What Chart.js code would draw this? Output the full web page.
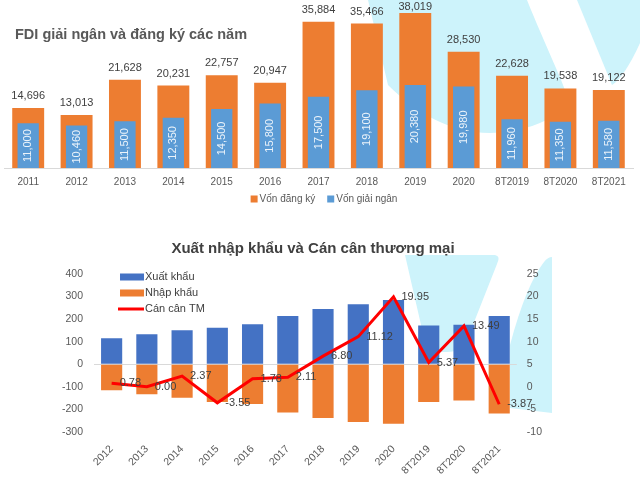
<!DOCTYPE html>
<html lang="vi">
<head>
    <meta charset="UTF-8">
    <title>FDI và Xuất nhập khẩu</title>
    <style>
        body { margin: 0; background: #fff; font-family: "Liberation Sans", Arial, sans-serif; }
        #wrap { position: relative; width: 640px; height: 480px; overflow: hidden; }
        #bg { position: absolute; left: 0; top: 0; }
        canvas { position: absolute; left: 0; }
        #fdiChart { top: 0; }
        #tradeChart { top: 230px; }
        .title { position: absolute; font-weight: bold; white-space: nowrap; line-height: 17px; }
        #t1 { left: 15px; top: 26px; font-size: 14.5px; color: #595959; }
        #t2 { left: 0; width: 626px; text-align: center; top: 239px; font-size: 15px; color: #404040; }
    </style>
</head>
<body>
<div id="wrap">
    <!-- faint watermark shapes behind the charts -->
    <svg id="bg" width="640" height="480">
        <path fill="#CDF3FB" d="M368,0 L527,0 C545,45 565,85 570,105 C545,125 520,132 490,133 C450,133 415,112 388,85 Z"/>
        <path fill="#CDF3FB" d="M577,0 L640,0 L640,43 C630,65 620,80 612,85 Z"/>
        <path fill="#CDF3FB" d="M405,255 L495,255 Q501,256 497,264 L467,340 Q462,352 447,352 L437,352 Q428,350 424,338 Z"/>
        <path fill="#CDF3FB" d="M510,408 L510,345 Q526,285 544,262 Q548,257 552,257 L552,413 Z"/>
    </svg>
    <canvas id="fdiChart" width="640" height="214"></canvas>
    <canvas id="tradeChart" width="640" height="250"></canvas>
    <div class="title" id="t1">FDI giải ngân và đăng ký các năm</div>
    <div class="title" id="t2">Xuất nhập khẩu và Cán cân thương mại</div>
</div>

<script src="https://cdn.jsdelivr.net/npm/chart.js@4.4.1/dist/chart.umd.min.js"></script>
<script>
    // FDI chart data (triệu USD)
    const fdiYears = ['2011', '2012', '2013', '2014', '2015', '2016', '2017', '2018', '2019', '2020', '8T2019', '8T2020', '8T2021'];
    const fdiRegistered = [14696, 13013, 21628, 20231, 22757, 20947, 35884, 35466, 38019, 28530, 22628, 19538, 19122];
    const fdiDisbursed = [11000, 10460, 11500, 12350, 14500, 15800, 17500, 19100, 20380, 19980, 11960, 11350, 11580];

    // trade chart data (tỷ USD)
    const tradeYears = ['2012', '2013', '2014', '2015', '2016', '2017', '2018', '2019', '2020', '8T2019', '8T2020', '8T2021'];
    const exportsBn = [115, 133, 151, 162, 177, 214, 245, 266, 285, 172, 175, 214];
    const importsBn = [-115, -133, -149, -167, -176, -214, -238, -256, -264, -167, -161, -218];
    const balanceBn = [0.78, 0.00, 2.37, -3.55, 1.78, 2.11, 6.80, 11.12, 19.95, 5.37, 13.49, -3.87];

    const FONT = '"Liberation Sans", Arial, sans-serif';
    Chart.defaults.font.family = FONT;
    Chart.defaults.color = '#595959';

    const fmt = n => n.toLocaleString('en-US');

    // value labels: above orange bars, rotated inside blue bars
    const fdiLabels = {
        id: 'fdiLabels',
        afterDatasetsDraw(chart) {
            const ctx = chart.ctx;
            ctx.save();
            ctx.font = '11px ' + FONT;
            ctx.textAlign = 'center';
            ctx.textBaseline = 'middle';
            chart.getDatasetMeta(0).data.forEach((bar, i) => {
                ctx.fillStyle = '#404040';
                ctx.fillText(fmt(fdiRegistered[i]), bar.x, Math.max(bar.y - 12, 7));
            });
            chart.getDatasetMeta(1).data.forEach((bar, i) => {
                ctx.save();
                ctx.translate(bar.x, (bar.y + bar.base) / 2);
                ctx.rotate(-Math.PI / 2);
                ctx.fillStyle = 'rgba(255,255,255,0.88)';
                ctx.fillText(fmt(fdiDisbursed[i]), 0, 0);
                ctx.restore();
            });
            ctx.restore();
        }
    };

    // small legend centred under the axis
    const fdiLegend = {
        id: 'fdiLegend',
        afterDraw(chart) {
            const ctx = chart.ctx;
            const y = chart.chartArea.bottom + 31;
            ctx.save();
            ctx.font = '10px ' + FONT;
            ctx.textBaseline = 'middle';
            ctx.textAlign = 'left';
            const ds = chart.data.datasets;
            const widths = ds.map(d => 9 + ctx.measureText(d.label).width);
            const total = widths.reduce((s, w) => s + w, 0) + 12 * (ds.length - 1);
            let x = 324 - total / 2;
            ds.forEach((d, i) => {
                ctx.fillStyle = d.backgroundColor;
                ctx.fillRect(x, y - 3.5, 7, 7);
                ctx.fillStyle = '#595959';
                ctx.fillText(d.label, x + 9, y);
                x += widths[i] + 12;
            });
            ctx.restore();
        }
    };

    new Chart(document.getElementById('fdiChart'), {
        type: 'bar',
        data: {
            labels: fdiYears,
            datasets: [{
                label: 'Vốn đăng ký',
                data: fdiRegistered,
                backgroundColor: '#ED7D31',
                barPercentage: 0.66,
                categoryPercentage: 1,
                grouped: false,
                order: 1
            }, {
                label: 'Vốn giải ngân',
                data: fdiDisbursed,
                backgroundColor: '#5B9BD5',
                barPercentage: 0.44,
                categoryPercentage: 1,
                grouped: false,
                order: 0
            }]
        },
        options: {
            responsive: false,
            animation: false,
            layout: { padding: { left: 4, right: 7, top: 5, bottom: 18 } },
            scales: {
                x: {
                    grid: { display: true, drawOnChartArea: false, drawTicks: false },
                    border: { display: true, color: '#D9D9D9' },
                    ticks: { font: { size: 10 }, color: '#595959', padding: 8 }
                },
                y: { display: false, min: 0, max: 40000 }
            },
            plugins: {
                legend: { display: false },
                tooltip: { enabled: false }
            }
        },
        plugins: [fdiLabels, fdiLegend]
    });

    // legend inside the plot, top-left
    const tradeLegend = {
        id: 'tradeLegend',
        afterDraw(chart) {
            const ctx = chart.ctx, a = chart.chartArea;
            const x = a.left + 26, y0 = a.top + 3;
            ctx.save();
            ctx.font = '11px ' + FONT;
            ctx.textBaseline = 'middle';
            ctx.textAlign = 'left';
            chart.data.datasets.forEach((ds, i) => {
                const y = y0 + i * 16;
                if (ds.type === 'line') {
                    ctx.strokeStyle = ds.borderColor;
                    ctx.lineWidth = 3;
                    ctx.beginPath();
                    ctx.moveTo(x - 2, y);
                    ctx.lineTo(x + 24, y);
                    ctx.stroke();
                } else {
                    ctx.fillStyle = ds.backgroundColor;
                    ctx.fillRect(x, y - 3.5, 24, 7);
                }
                ctx.fillStyle = '#404040';
                ctx.fillText(ds.label, x + 25, y);
            });
            ctx.restore();
        }
    };

    // balance labels to the right of each point
    const balanceLabels = {
        id: 'balanceLabels',
        afterDatasetsDraw(chart) {
            const ctx = chart.ctx;
            ctx.save();
            ctx.font = '11px ' + FONT;
            ctx.fillStyle = '#404040';
            ctx.textAlign = 'left';
            ctx.textBaseline = 'middle';
            chart.getDatasetMeta(2).data.forEach((p, i) => {
                ctx.fillText(balanceBn[i].toFixed(2), p.x + 8, p.y);
            });
            ctx.restore();
        }
    };

    new Chart(document.getElementById('tradeChart'), {
        data: {
            labels: tradeYears,
            datasets: [{
                type: 'bar',
                label: 'Xuất khẩu',
                data: exportsBn,
                backgroundColor: '#4472C4',
                barPercentage: 0.6,
                categoryPercentage: 1,
                grouped: false,
                yAxisID: 'y'
            }, {
                type: 'bar',
                label: 'Nhập khẩu',
                data: importsBn,
                backgroundColor: '#ED7D31',
                barPercentage: 0.6,
                categoryPercentage: 1,
                grouped: false,
                yAxisID: 'y'
            }, {
                type: 'line',
                label: 'Cán cân TM',
                data: balanceBn,
                borderColor: '#FF0000',
                borderWidth: 3,
                pointRadius: 0,
                tension: 0,
                yAxisID: 'y1',
                order: -1
            }]
        },
        options: {
            responsive: false,
            animation: false,
            layout: { padding: { left: 51, right: 88, top: 44, bottom: 0 } },
            scales: {
                x: {
                    grid: { display: false },
                    border: { display: false },
                    ticks: { font: { size: 10.5 }, color: '#595959', minRotation: 45, maxRotation: 45, autoSkip: false, padding: 3 }
                },
                y: {
                    position: 'left',
                    min: -300, max: 400,
                    ticks: { stepSize: 100, font: { size: 10.5 }, color: '#595959', padding: 11 },
                    grid: { color: c => c.tick.value === 0 ? '#D9D9D9' : 'transparent', drawTicks: false },
                    border: { display: false }
                },
                y1: {
                    position: 'right',
                    min: -10, max: 25,
                    ticks: { stepSize: 5, font: { size: 10.5 }, color: '#595959', padding: 10 },
                    grid: { display: false, drawTicks: false },
                    border: { display: false }
                }
            },
            plugins: {
                legend: { display: false },
                tooltip: { enabled: false }
            }
        },
        plugins: [balanceLabels, tradeLegend]
    });
</script>
</body>
</html>
